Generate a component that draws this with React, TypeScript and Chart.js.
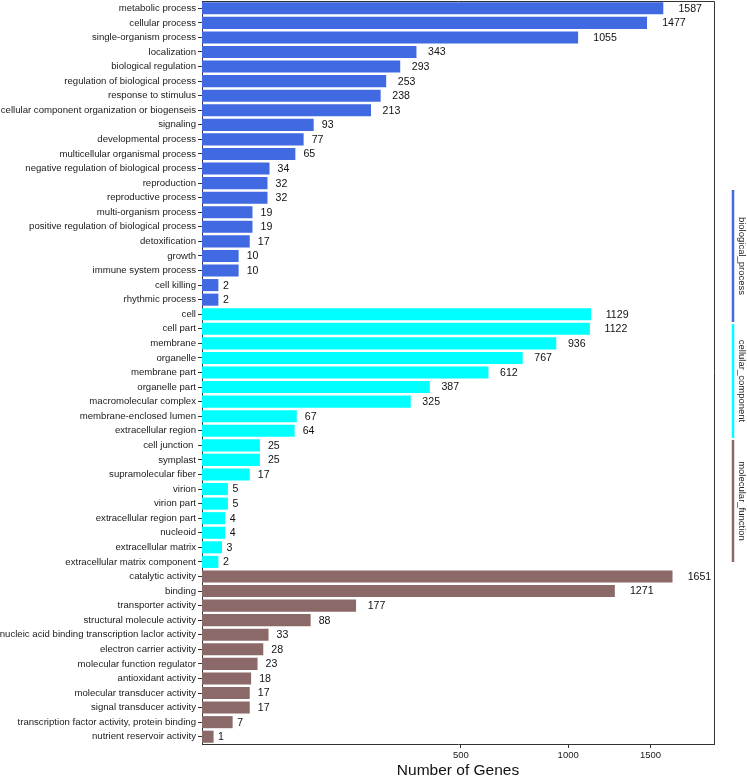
import React, { useEffect, useRef } from 'react';
import { Chart, registerables, LinearScale } from 'chart.js';

Chart.register(...registerables);

class SqrtScale extends LinearScale {
  static id = 'sqrt';
  getPixelForValue(value: number) {
    const s = Math.sqrt(Math.max(0, value));
    const s0 = Math.sqrt(Math.max(0, this.min));
    const s1 = Math.sqrt(Math.max(0, this.max));
    return this.getPixelForDecimal((s - s0) / (s1 - s0));
  }
  getValueForPixel(pixel: number) {
    const d = this.getDecimalForPixel(pixel);
    const s0 = Math.sqrt(Math.max(0, this.min));
    const s1 = Math.sqrt(Math.max(0, this.max));
    const s = s0 + d * (s1 - s0);
    return s * s;
  }
}
Chart.register(SqrtScale);

// ---- data ----
const bpLabels = [
  'metabolic process', 'cellular process', 'single-organism process', 'localization',
  'biological regulation', 'regulation of biological process', 'response to stimulus',
  'cellular component organization or biogenseis', 'signaling', 'developmental process',
  'multicellular organismal process', 'negative regulation of biological process',
  'reproduction', 'reproductive process', 'multi-organism process',
  'positive regulation of biological process', 'detoxification', 'growth',
  'immune system process', 'cell killing', 'rhythmic process',
];
const bpValues = [1587, 1477, 1055, 343, 293, 253, 238, 213, 93, 77, 65, 34, 32, 32, 19, 19, 17, 10, 10, 2, 2];

const ccLabels = [
  'cell', 'cell part', 'membrane', 'organelle', 'membrane part', 'organelle part',
  'macromolecular complex', 'membrane-enclosed lumen', 'extracellular region',
  'cell junction ', 'symplast', 'supramolecular fiber', 'virion', 'virion part',
  'extracellular region part', 'nucleoid', 'extracellular matrix',
  'extracellular matrix component',
];
const ccValues = [1129, 1122, 936, 767, 612, 387, 325, 67, 64, 25, 25, 17, 5, 5, 4, 4, 3, 2];

const mfLabels = [
  'catalytic activity', 'binding', 'transporter activity', 'structural molecule activity',
  'nucleic acid binding transcription laclor activity', 'electron carrier activity',
  'molecular function regulator', 'antioxidant activity', 'molecular transducer activity',
  'signal transducer activity', 'transcription factor activity, protein binding',
  'nutrient reservoir activity',
];
const mfValues = [1651, 1271, 177, 88, 33, 28, 23, 18, 17, 17, 7, 1];

const groupNames = ['biological_process', 'cellular_component', 'molecular_function'];
const groupColors = ['#4169E1', '#00FFFF', '#8B6969'];
const xTicks = [500, 1000, 1500];
const xMax = 1955;
const xTitle = 'Number of Genes';

const FONT = "'Liberation Sans', Arial, Helvetica, sans-serif";

export default function App() {
  const ref = useRef<HTMLCanvasElement | null>(null);

  useEffect(() => {
    const canvas = ref.current;
    if (!canvas) return;
    const labels = [...bpLabels, ...ccLabels, ...mfLabels];
    const values = [...bpValues, ...ccValues, ...mfValues];
    const colors = [
      ...bpValues.map(() => groupColors[0]),
      ...ccValues.map(() => groupColors[1]),
      ...mfValues.map(() => groupColors[2]),
    ];

    const extras = {
      id: 'extras',
      afterDatasetsDraw(chart: any) {
        const ctx = chart.ctx;
        const meta = chart.getDatasetMeta(0);
        ctx.save();
        ctx.font = `10.6px ${FONT}`;
        ctx.fillStyle = '#111';
        ctx.textAlign = 'left';
        ctx.textBaseline = 'middle';
        meta.data.forEach((bar: any, i: number) => {
          const t = String(values[i]);
          const w = ctx.measureText(t).width;
          ctx.fillText(t, bar.x + 0.6 * w + 1, bar.y + 0.5);
        });
        ctx.restore();
      },
      afterDraw(chart: any) {
        const ctx = chart.ctx;
        const a = chart.chartArea;
        ctx.save();
        ctx.strokeStyle = '#333';
        ctx.lineWidth = 1;
        ctx.beginPath();
        ctx.moveTo(a.left, a.top + 0.5);
        ctx.lineTo(a.right + 0.5, a.top + 0.5);
        ctx.lineTo(a.right + 0.5, a.bottom);
        ctx.stroke();

        // group indicators on the right
        const H = chart.height;
        const spans = [
          [190 / H, 322 / H],
          [324 / H, 438 / H],
          [440 / H, 562 / H],
        ];
        const lx = a.right + 19;
        spans.forEach((sp, g) => {
          const y0 = sp[0] * H;
          const y1 = sp[1] * H;
          ctx.strokeStyle = groupColors[g];
          ctx.lineWidth = 2.5;
          ctx.beginPath();
          ctx.moveTo(lx, y0);
          ctx.lineTo(lx, y1);
          ctx.stroke();
          ctx.save();
          ctx.translate(lx + 9, (y0 + y1) / 2);
          ctx.rotate(Math.PI / 2);
          ctx.fillStyle = '#222';
          ctx.font = `9.5px ${FONT}`;
          ctx.textAlign = 'center';
          ctx.textBaseline = 'middle';
          ctx.fillText(groupNames[g], 0, 0);
          ctx.restore();
        });
        ctx.restore();
      },
    };

    const chart = new Chart(canvas, {
      type: 'bar',
      data: {
        labels,
        datasets: [
          {
            data: values,
            backgroundColor: colors,
            borderWidth: 0,
            barPercentage: 0.83,
            categoryPercentage: 1,
          },
        ],
      },
      options: {
        indexAxis: 'y',
        animation: false,
        responsive: false,
        devicePixelRatio: 1,
        layout: { padding: { top: 1, right: 33, left: 0, bottom: 0 } },
        plugins: {
          legend: { display: false },
          tooltip: { enabled: false },
        },
        scales: {
          y: {
            type: 'category',
            grid: {
              offset: false,
              drawOnChartArea: false,
              drawTicks: true,
              tickLength: 4,
              color: '#333',
            },
            border: { display: true, color: '#333', width: 1 },
            ticks: {
              autoSkip: false,
              padding: 2,
              color: '#1a1a1a',
              font: { family: FONT, size: 9.6 },
            },
            afterFit(scale: any) {
              scale.width = 202;
              scale.paddingTop = 0;
              scale.paddingBottom = 0;
            },
          },
          x: {
            type: 'sqrt' as any,
            min: 0,
            max: xMax,
            grid: {
              drawOnChartArea: false,
              drawTicks: true,
              tickLength: 4,
              color: '#333',
            },
            border: { display: true, color: '#333', width: 1 },
            ticks: {
              padding: 2,
              color: '#1a1a1a',
              font: { family: FONT, size: 9.5 },
              callback: (v: any) => String(v),
            },
            afterBuildTicks(scale: any) {
              scale.ticks = xTicks.map((v) => ({ value: v }));
            },
            title: {
              display: true,
              text: xTitle,
              color: '#111',
              font: { family: FONT, size: 15.5, lineHeight: 0.9 },
              padding: { top: 0, bottom: 0 },
            },
            afterFit(scale: any) {
              scale.height = 34;
              scale.paddingLeft = 0;
              scale.paddingRight = 0;
            },
          },
        },
      },
      plugins: [extras],
    } as any);

    return () => chart.destroy();
  }, []);

  return (
    <div style={{ position: 'fixed', left: 0, top: 0, width: 747, height: 778, background: '#fff' }}>
      <canvas ref={ref} width={747} height={778} style={{ width: 747, height: 778, display: 'block' }} />
    </div>
  );
}
